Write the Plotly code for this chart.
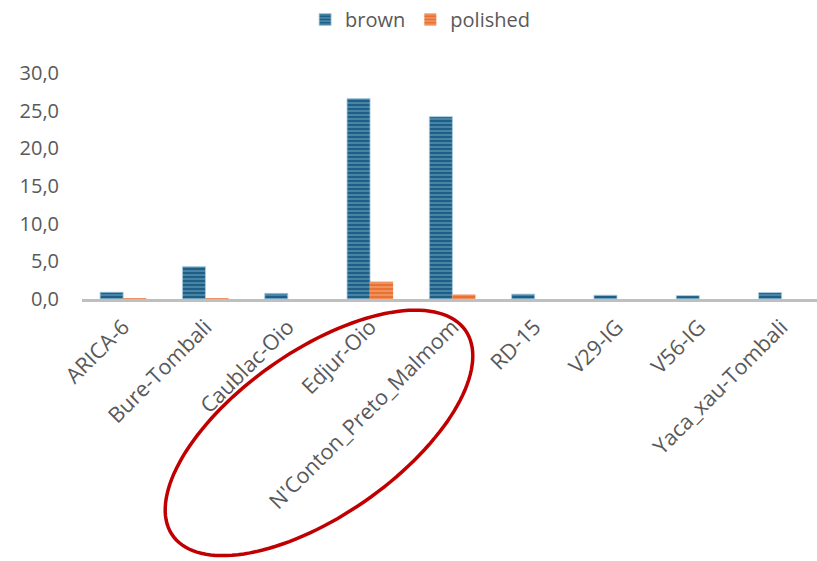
import numpy as np
import plotly.graph_objects as go

# Rice samples and their measured values
categories = ["ARICA-6", "Bure-Tombali", "Caublac-Oio", "Edjur-Oio",
              "N'Conton_Preto_Malmom", "RD-15", "V29-IG", "V56-IG", "Yaca_xau-Tombali"]
brown = [0.9, 4.3, 0.75, 26.6, 24.2, 0.65, 0.5, 0.45, 0.85]
polished = [0.1, 0.1, 0.0, 2.3, 0.6, 0.0, 0.0, 0.0, 0.0]
y_ticks = [0, 5, 10, 15, 20, 25, 30]

W, H = 817, 561
L, R, T, B = 82, 0, 72, 262
FONT = "Open Sans"
GREY = "#595959"

fig = go.Figure()
fig.add_trace(go.Bar(
    name="brown", x=categories, y=brown,
    marker=dict(color="#1d5f86",
                line=dict(color="#a9cbe0", width=0.8),
                pattern=dict(shape="-", bgcolor="#1d5f86", fgcolor="#8fbdd6",
                             size=4, solidity=0.4, fillmode="overlay")),
))
fig.add_trace(go.Bar(
    name="polished", x=categories, y=polished,
    marker=dict(color="#e97132",
                line=dict(width=0),
                pattern=dict(shape="-", bgcolor="#e97132", fgcolor="#f7c4a6",
                             size=4, solidity=0.4, fillmode="overlay")),
))

# Red ellipse highlighting the middle sample labels (pixel geometry -> paper coords)
pw, ph = W - L - R, H - T - B
cx, cy, a, b, ang = 319, 433.5, 179, 82.5, np.deg2rad(35.2)
t = np.linspace(0, 2 * np.pi, 140)
ex = cx + a * np.cos(t) * np.cos(ang) - b * np.sin(t) * np.sin(ang)
ey = cy - (a * np.cos(t) * np.sin(ang) + b * np.sin(t) * np.cos(ang))
px_ = (ex - L) / pw
py_ = (H - B - ey) / ph
path = "M " + " L ".join(f"{x:.4f},{y:.4f}" for x, y in zip(px_, py_)) + " Z"
fig.add_shape(type="path", path=path, xref="paper", yref="paper",
              line=dict(color="#c00000", width=3.5), layer="above")

fig.update_layout(
    width=W, height=H,
    margin=dict(l=L, r=R, t=T, b=B),
    paper_bgcolor="white", plot_bgcolor="white",
    barmode="group", bargap=0.44, bargroupgap=0,
    separators=", ",
    font=dict(family=FONT, size=20, color=GREY),
    legend=dict(orientation="h", x=0.46, xanchor="center", y=1.238, yanchor="middle",
                font=dict(size=20, color=GREY), itemwidth=30, traceorder="normal"),
    xaxis=dict(range=[-0.5, 8.43], showline=True, linecolor="#bfbfbf", linewidth=3,
               tickangle=-45, tickfont=dict(size=21.5, color=GREY), showgrid=False,
               ticks="outside", ticklen=4, tickcolor="rgba(0,0,0,0)"),
    yaxis=dict(range=[0, 30], tickvals=y_ticks, tickformat=".1f", showgrid=False,
               zeroline=False, showline=False, ticklabelstandoff=22,
               tickfont=dict(size=20, color=GREY)),
)

fig.write_html("out.html")
